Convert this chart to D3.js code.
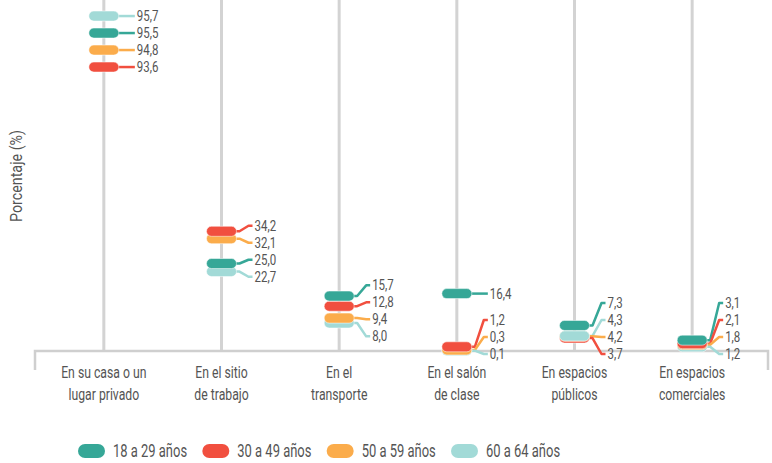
<!DOCTYPE html>
<html>
<head>
<meta charset="utf-8">
<script src="https://cdn.jsdelivr.net/npm/d3@7"></script>
<style>
  html, body { margin: 0; padding: 0; background: #ffffff; }
  svg text { font-family: Roboto, "Noto Sans", sans-serif; fill: #545454; }
</style>
</head>
<body>
<svg id="chart" width="772" height="463"></svg>
<script>
// ---------- Data ----------
const categories = [
  "En su casa o un lugar privado",
  "En el sitio de trabajo",
  "En el transporte",
  "En el salón de clase",
  "En espacios públicos",
  "En espacios comerciales"
];
const categoryLines = [
  ["En su casa o un", "lugar privado"],
  ["En el sitio", "de trabajo"],
  ["En el", "transporte"],
  ["En el salón", "de clase"],
  ["En espacios", "públicos"],
  ["En espacios", "comerciales"]
];
const seriesNames = ["18 a 29 años", "30 a 49 años", "50 a 59 años", "60 a 64 años"];
const values18to29 = [95.5, 25.0, 15.7, 16.4, 7.3, 3.1];
const values30to49 = [93.6, 34.2, 12.8, 1.2, 3.7, 2.1];
const values50to59 = [94.8, 32.1, 9.4, 0.3, 4.2, 1.8];
const values60to64 = [95.7, 22.7, 8.0, 0.1, 4.3, 1.2];
const yAxisTitle = "Porcentaje (%)";

// ---------- Styles / layout ----------
const colors = ["#36a797", "#f14f3f", "#fbac4b", "#a2dad7"];
const allSeries = [values18to29, values30to49, values50to59, values60to64];

const svg = d3.select("#chart");
const plot = { left: 35, right: 768, top: 1, bottom: 351 };

const x = d3.scaleBand().domain(categories).range([45, 751]);
const y = d3.scaleLinear().domain([0, 100]).range([plot.bottom, plot.top]);

const pillW = 30, pillH = 10;
const fmt = v => d3.format(".1f")(v).replace(".", ",");

// condensed text helper (horizontal squeeze mimics the condensed typeface)
function ctext(parent, tx, ty, str, size, anchor, squeeze, rotate) {
  const g = parent.append("g")
    .attr("transform", `translate(${tx},${ty})` + (rotate ? ` rotate(${rotate})` : "") + ` scale(${squeeze},1)`);
  return g.append("text")
    .attr("x", 0).attr("y", 0)
    .attr("dy", "0.36em")
    .attr("text-anchor", anchor || "start")
    .attr("font-size", size)
    .text(str);
}

// gridlines
svg.append("g").selectAll("line").data(categories).join("line")
  .attr("x1", d => x(d) + x.bandwidth() / 2)
  .attr("x2", d => x(d) + x.bandwidth() / 2)
  .attr("y1", 0).attr("y2", y(0))
  .attr("stroke", "#d3d3d3").attr("stroke-width", 3);

// axis baseline with end ticks
svg.append("path")
  .attr("d", `M${plot.left},370 V${y(0)} H${plot.right} V370`)
  .attr("fill", "none").attr("stroke", "#cfcfcf").attr("stroke-width", 2.5);

// category labels
const catG = svg.append("g");
categories.forEach((c, i) => {
  categoryLines[i].forEach((ln, j) => {
    ctext(catG, x(c) + x.bandwidth() / 2, 372 + j * 22, ln, 17, "middle", 0.72);
  });
});

// y axis title
ctext(svg, 16, 176, yAxisTitle, 17, "middle", 0.84, -90);

// ---------- Layout helpers ----------
function placePills(items) {
  const gap = 17;
  let prev = null;
  items.forEach(it => {
    it.py = y(it.v);
    if (prev && it.py - prev.py < 4 && it.py < y(0) - 20) {
      it.py = prev.py + gap;
    }
    prev = it;
  });
}

function placeLabels(items, gap, minY, maxY) {
  const sorted = items.slice().sort((a, b) => a.py - b.py);
  let clusters = sorted.map(it => ({ items: [it] }));
  const setStart = cl => {
    const n = cl.items.length;
    const mean = d3.mean(cl.items, d => d.py);
    let s = mean - (n - 1) * gap / 2;
    s = Math.max(minY, Math.min(s, maxY - (n - 1) * gap));
    cl.start = s;
  };
  clusters.forEach(setStart);
  let merged = true;
  while (merged) {
    merged = false;
    for (let i = 0; i < clusters.length - 1; i++) {
      const a = clusters[i], b = clusters[i + 1];
      if (a.start + a.items.length * gap > b.start) {
        const c = { items: a.items.concat(b.items) };
        setStart(c);
        clusters.splice(i, 2, c);
        merged = true;
        break;
      }
    }
  }
  clusters.forEach(cl => cl.items.forEach((it, k) => { it.ly = cl.start + k * gap; }));
}

// ---------- Marks ----------
const marksG = svg.append("g");
const labelsG = svg.append("g");
categories.forEach((c, ci) => {
  const cx = x(c) + x.bandwidth() / 2;
  const items = allSeries.map((s, si) => ({ v: s[ci], si }));
  items.sort((a, b) => b.v - a.v);
  placePills(items);
  placeLabels(items, 17, 10, 354);

  const right = cx + pillW / 2;
  items.forEach(it => {
    labelsG.append("path")
      .attr("d", `M${right - 2},${it.py} L${right + 3},${it.py} L${right + 12},${it.ly} L${right + 16},${it.ly}`)
      .attr("fill", "none")
      .attr("stroke", colors[it.si])
      .attr("stroke-width", 2.5)
      .attr("stroke-linejoin", "round");
    ctext(labelsG, right + 18, it.ly, fmt(it.v), 14, "start", 0.82);
  });
  items.slice().reverse().forEach(it => {
    marksG.append("rect")
      .attr("x", cx - pillW / 2)
      .attr("y", it.py - pillH / 2)
      .attr("width", pillW)
      .attr("height", pillH)
      .attr("rx", pillH / 2)
      .attr("fill", colors[it.si])
      .attr("stroke", "#ffffff")
      .attr("stroke-opacity", 0.5)
      .attr("stroke-width", 1);
  });
});
marksG.raise();

// ---------- Legend ----------
const legend = svg.append("g");
const legendX = d3.scalePoint().domain(seriesNames).range([78, 451]);
seriesNames.forEach((name, i) => {
  const lx = legendX(name);
  legend.append("rect")
    .attr("x", lx).attr("y", 444)
    .attr("width", 27).attr("height", 14).attr("rx", 7)
    .attr("fill", colors[i]);
  ctext(legend, lx + 35, 451, name, 18, "start", 0.72);
});
</script>
</body>
</html>
